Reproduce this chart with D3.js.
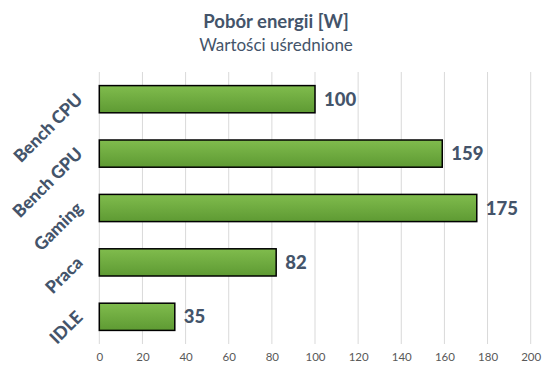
<!DOCTYPE html>
<html>
<head>
<meta charset="utf-8">
<script src="https://cdn.jsdelivr.net/npm/d3@7"></script>
<style>
  body { margin: 0; background: #fff; }
  svg { display: block; font-family: Lato, "Open Sans", sans-serif; }
</style>
</head>
<body>
<div id="chart"></div>
<script>
const categories = ["Bench CPU", "Bench GPU", "Gaming", "Praca", "IDLE"];
const values = [100, 159, 175, 82, 35];
const xTicks = [0, 20, 40, 60, 80, 100, 120, 140, 160, 180, 200];

const width = 551,
    height = 372;

const margin = {top: 72, right: 20, bottom: 28, left: 99.3};

const svg = d3.select("#chart")
    .append("svg")
    .attr("width", width)
    .attr("height", height);

// gradient for the bars
const grad = svg.append("defs").append("linearGradient")
    .attr("id", "barGrad")
    .attr("x1", 0).attr("y1", 0).attr("x2", 0).attr("y2", 1);
grad.append("stop").attr("offset", "0%").attr("stop-color", "#80bc4d");
grad.append("stop").attr("offset", "100%").attr("stop-color", "#5e9a33");

const x = d3.scaleLinear()
    .domain([0, 200])
    .range([margin.left, 530.7]);

const y = d3.scaleBand()
    .domain(categories)
    .range([margin.top, 344])
    .paddingInner(0.5)
    .paddingOuter(0.25);

// title
svg.append("text")
    .attr("x", 276)
    .attr("y", 28)
    .attr("text-anchor", "middle")
    .attr("fill", "#44546a")
    .style("font-size", "18.5px")
    .style("font-weight", "bold")
    .text("Pobór energii [W]");

svg.append("text")
    .attr("x", 276)
    .attr("y", 51)
    .attr("text-anchor", "middle")
    .attr("fill", "#44546a")
    .style("font-size", "17px")
    .text("Wartości uśrednione");

// gridlines
svg.append("g")
    .selectAll("line")
    .data(xTicks)
    .join("line")
    .attr("x1", d => x(d))
    .attr("x2", d => x(d))
    .attr("y1", margin.top)
    .attr("y2", 344)
    .attr("stroke", "#d9d9d9")
    .attr("stroke-width", 1);

// x axis labels
const xAxis = svg.append("g")
    .attr("transform", `translate(0, 344)`)
    .call(d3.axisBottom(x).tickValues(xTicks).tickSize(0).tickPadding(9));
xAxis.select(".domain").remove();
xAxis.selectAll("text")
    .attr("fill", "#595959")
    .style("font-size", "11.5px")
    .style("font-family", "Lato, sans-serif");

// bars
svg.append("g")
    .selectAll("rect")
    .data(values)
    .join("rect")
    .attr("x", x(0))
    .attr("y", (d, i) => y(categories[i]))
    .attr("width", d => x(d) - x(0))
    .attr("height", y.bandwidth())
    .attr("fill", "url(#barGrad)")
    .attr("stroke", "#000")
    .attr("stroke-width", 1.5);

// value labels
svg.append("g")
    .selectAll("text")
    .data(values)
    .join("text")
    .attr("x", d => x(d) + 9)
    .attr("y", (d, i) => y(categories[i]) + y.bandwidth() / 2)
    .attr("dy", "0.36em")
    .attr("fill", "#44546a")
    .style("font-size", "18.5px")
    .style("font-weight", "900")
    .text(d => d);

// category labels, rotated
svg.append("g")
    .selectAll("text")
    .data(categories)
    .join("text")
    .attr("text-anchor", "end")
    .attr("transform", d => `translate(${x(0) - 20}, ${y(d) + y.bandwidth() / 2 - 3}) rotate(-45)`)
    .attr("dy", "0.36em")
    .attr("fill", "#44546a")
    .style("font-size", "17.5px")
    .style("font-weight", "900")
    .text(d => d);
</script>
</body>
</html>
